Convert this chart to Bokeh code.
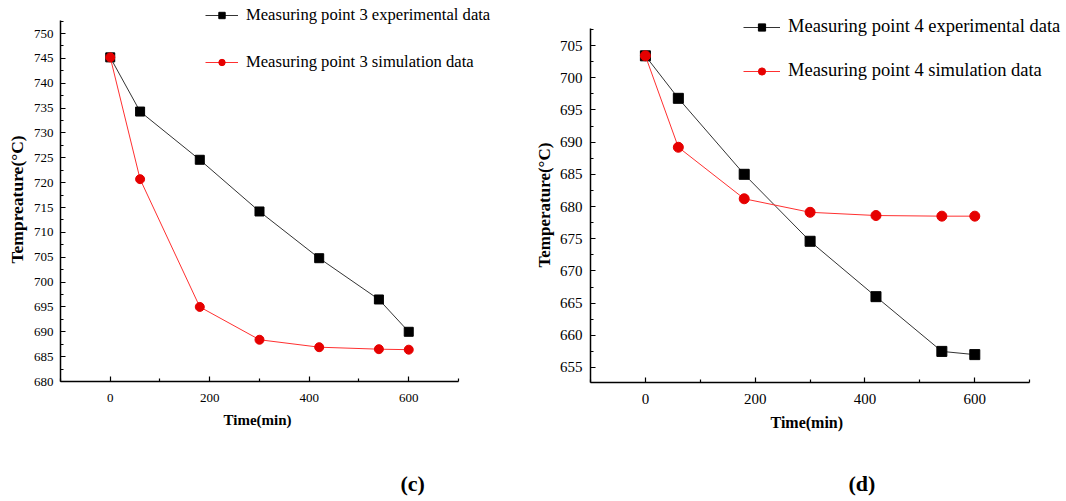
from bokeh.plotting import figure
from bokeh.models import Range1d, FixedTicker, Legend, LegendItem, Title
from bokeh.layouts import row
from bokeh.embed import file_html
from bokeh.resources import INLINE

time_min = [0, 60, 180, 300, 420, 540, 600]

p3_exp = [745.2, 734.3, 724.6, 714.2, 704.8, 696.5, 690.0]
p3_sim = [745.2, 720.7, 695.0, 688.4, 686.9, 686.5, 686.4]

p4_exp = [703.4, 696.8, 685.0, 674.6, 666.0, 657.5, 657.0]
p4_sim = [703.4, 689.2, 681.2, 679.1, 678.6, 678.5, 678.5]

x_ticks = [0, 200, 400, 600]
x_minor = [-100, 100, 300, 500, 700]

FONT = "Liberation Serif"


def make_panel(exp, sim, point, ylabel, caption, xr, yr, ybounds, yticks, yminor,
               fw, fh, bl, br, bt, bb, tick_fs, title_fs, ytitle_fs, leg_fs,
               leg_loc, glyph_w, glyph_h, leg_spacing, msize,
               xlab_off, ylab_off, cap_off, xstand, ystand, xt_stand, yt_stand,
               cap_stand):
    p = figure(frame_width=fw, frame_height=fh,
               x_range=Range1d(*xr), y_range=Range1d(*yr),
               output_backend="svg", toolbar_location=None,
               min_border_left=bl, min_border_right=br,
               min_border_top=bt, min_border_bottom=bb)
    p.outline_line_color = None
    p.xgrid.visible = False
    p.ygrid.visible = False
    p.background_fill_color = "white"
    p.border_fill_color = "white"

    for ax in (p.xaxis[0], p.yaxis[0]):
        ax.axis_line_color = "black"
        ax.axis_line_width = 1.5
        ax.major_tick_in = 5
        ax.major_tick_out = 0
        ax.minor_tick_in = 3
        ax.minor_tick_out = 0
        ax.major_tick_line_color = "black"
        ax.minor_tick_line_color = "black"
        ax.major_tick_line_width = 1.2
        ax.minor_tick_line_width = 1.2
        ax.major_label_text_font = FONT
        ax.major_label_text_font_size = f"{tick_fs}px"
        ax.major_label_text_color = "black"

    p.xaxis[0].ticker = FixedTicker(ticks=x_ticks, minor_ticks=x_minor)
    p.yaxis[0].ticker = FixedTicker(ticks=yticks, minor_ticks=yminor)
    p.xaxis[0].bounds = (-100, 700)
    p.yaxis[0].bounds = ybounds
    p.xaxis[0].major_label_standoff = xstand
    p.yaxis[0].major_label_standoff = ystand

    l1 = p.line(time_min, exp, line_color="#333333", line_width=1)
    s1 = p.scatter(time_min, exp, marker="square", size=msize,
                   fill_color="black", line_color="black")
    l2 = p.line(time_min, sim, line_color="#ff3030", line_width=1)
    s2 = p.scatter(time_min, sim, marker="circle", size=msize,
                   fill_color="#e60000", line_color="#e60000")

    legend = Legend(items=[
        LegendItem(label=f"Measuring point {point} experimental data", renderers=[l1, s1]),
        LegendItem(label=f"Measuring point {point} simulation data", renderers=[l2, s2]),
    ], location=leg_loc)
    legend.background_fill_alpha = 0
    legend.border_line_alpha = 0
    legend.padding = 0
    legend.margin = 0
    legend.spacing = leg_spacing
    legend.glyph_width = glyph_w
    legend.glyph_height = glyph_h
    legend.label_height = glyph_h
    legend.label_standoff = 8
    legend.label_text_font = FONT
    legend.label_text_font_size = f"{leg_fs}px"
    legend.label_text_color = "black"
    p.add_layout(legend, "center")

    xt = Title(text="Time(min)", align="left", offset=xlab_off, standoff=xt_stand,
               text_font=FONT, text_font_size=f"{title_fs}px",
               text_font_style="bold", text_color="black")
    p.add_layout(xt, "below")
    cap = Title(text=caption, align="left", offset=cap_off, standoff=cap_stand,
                text_font=FONT, text_font_size="22px",
                text_font_style="bold", text_color="black")
    p.add_layout(cap, "below")
    yt = Title(text=ylabel, align="left", offset=ylab_off, standoff=yt_stand,
               text_font=FONT, text_font_size=f"{ytitle_fs}px",
               text_font_style="bold", text_color="black")
    p.add_layout(yt, "left")
    return p


p_left = make_panel(p3_exp, p3_sim, 3, "Tempreature(°C)", "(c)",
                    (-100, 834.7), (680, 756.64), (680, 752.6),
                    list(range(680, 751, 5)),
                    [x + 2.5 for x in range(680, 751, 5)],
                    fw=465, fh=381, bl=60, br=5, bt=0, bb=112,
                    tick_fs=13, title_fs=15, ytitle_fs=17.5, leg_fs=16.6,
                    leg_loc=(145, 309), glyph_w=33, glyph_h=16, leg_spacing=27,
                    msize=9, xlab_off=163, ylab_off=118, cap_off=340,
                    xstand=12, ystand=7, xt_stand=10, yt_stand=7, cap_stand=72)

p_right = make_panel(p4_exp, p4_sim, 4, "Temperature(°C)", "(d)",
                     (-100, 763.4), (652.67, 711.99), (652.67, 707.64),
                     list(range(655, 706, 5)),
                     [x + 2.5 for x in range(650, 706, 5)],
                     fw=474, fh=382, bl=60, br=0, bt=0, bb=111,
                     tick_fs=15, title_fs=16, ytitle_fs=17, leg_fs=18.5,
                     leg_loc=(153, 301), glyph_w=37, glyph_h=18, leg_spacing=23,
                     msize=10, xlab_off=180, ylab_off=115, cap_off=258,
                     xstand=11, ystand=8, xt_stand=10, yt_stand=5, cap_stand=67)

layout = row(p_left, p_right, spacing=0)
open("out.html", "w").write(file_html(layout, INLINE))
